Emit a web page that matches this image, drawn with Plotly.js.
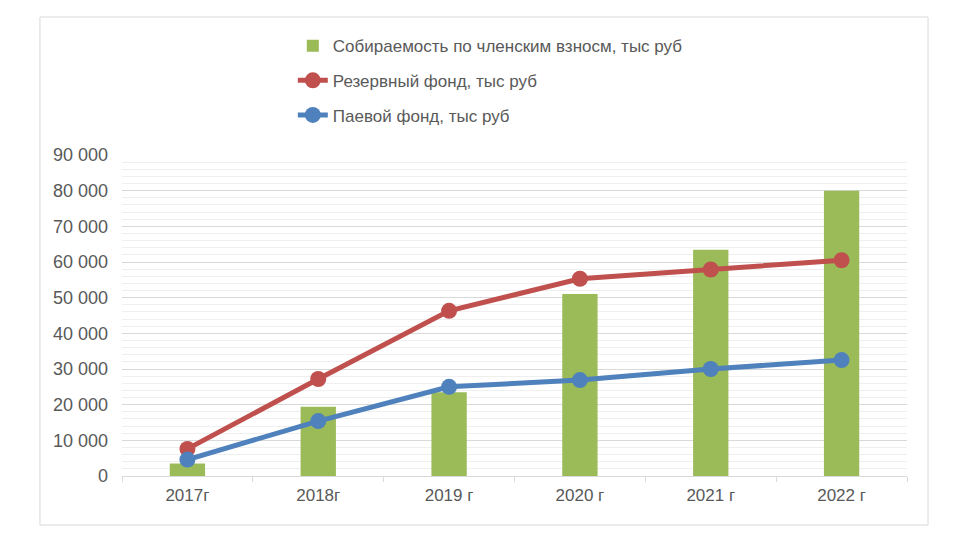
<!DOCTYPE html>
<html>
<head>
<meta charset="utf-8">
<script src="https://cdn.plot.ly/plotly-3.0.1.min.js"></script>
<style>
html,body{margin:0;padding:0;background:#fff;}
#chart{width:960px;height:549px;}
</style>
</head>
<body>
<div id="chart"></div>
<script>
const categories = ["2017г", "2018г", "2019 г", "2020 г", "2021 г", "2022 г"];
const collection = [3500, 19400, 23500, 51000, 63400, 80000];
const reserveFund = [7600, 27200, 46300, 55300, 57900, 60500];
const shareFund = [4600, 15400, 25000, 26900, 30000, 32500];
const yTickVals = [0, 10000, 20000, 30000, 40000, 50000, 60000, 70000, 80000, 90000];
const yTickText = ["0", "10 000", "20 000", "30 000", "40 000", "50 000", "60 000", "70 000", "80 000", "90 000"];

const textColor = '#595959';
const fontFam = '"Liberation Sans", Arial, sans-serif';

const traces = [
  {
    type: 'bar', x: categories, y: collection,
    name: 'Собираемость по членским взносм, тыс руб',
    marker: {color: '#9BBB59'}, width: 0.27,
    legendgroup: 'a', hoverinfo: 'skip'
  },
  {
    type: 'scatter', mode: 'lines+markers', x: categories, y: reserveFund,
    name: 'Резервный фонд, тыс руб',
    line: {color: '#C0504D', width: 5},
    marker: {color: '#C0504D', size: 16},
    legendgroup: 'b', hoverinfo: 'skip'
  },
  {
    type: 'scatter', mode: 'lines+markers', x: categories, y: shareFund,
    name: 'Паевой фонд, тыс руб',
    line: {color: '#4F81BD', width: 5},
    marker: {color: '#4F81BD', size: 16},
    legendgroup: 'c', hoverinfo: 'skip'
  }
];

const layout = {
  width: 960, height: 549,
  margin: {l: 122, r: 53, t: 155, b: 73},
  paper_bgcolor: '#ffffff', plot_bgcolor: '#ffffff',
  font: {family: fontFam, size: 17, color: textColor},
  showlegend: true,
  legend: {
    orientation: 'v', x: 0.2176, xanchor: 'left', y: 1.395, yanchor: 'top',
    traceorder: 'grouped', tracegroupgap: 9.5,
    font: {family: fontFam, size: 17, color: textColor},
    bgcolor: 'rgba(0,0,0,0)'
  },
  xaxis: {
    type: 'category', range: [-0.5, 5.5],
    showline: true, linecolor: '#d9d9d9', linewidth: 1,
    ticks: 'outside', tickson: 'boundaries', ticklen: 5, tickcolor: '#d9d9d9',
    showgrid: false, zeroline: false,
    tickfont: {family: fontFam, size: 17, color: textColor},
    ticklabelstandoff: 4
  },
  yaxis: {
    range: [0, 90000],
    tickvals: yTickVals, ticktext: yTickText,
    showgrid: true, gridcolor: '#d9d9d9', gridwidth: 1,
    minor: {dtick: 2000, showgrid: true, gridcolor: '#efefef', gridwidth: 1},
    zeroline: false, showline: false, ticks: '',
    tickfont: {family: fontFam, size: 18, color: textColor},
    ticklabelstandoff: 13
  },
  bargap: 0.73,
  shapes: [
    {type: 'rect', xref: 'paper', yref: 'paper',
     x0: -0.1045, x1: 1.0268, y0: -0.1526, y1: 1.43,
     line: {color: '#d9d9d9', width: 1}, fillcolor: 'rgba(0,0,0,0)', layer: 'below'}
  ]
};

Plotly.newPlot('chart', traces, layout, {displayModeBar: false, staticPlot: true});
</script>
</body>
</html>
